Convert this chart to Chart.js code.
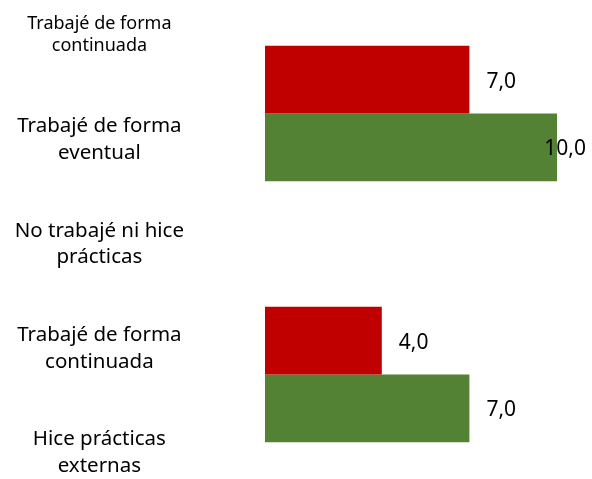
<!DOCTYPE html>
<html>
<head>
<meta charset="utf-8">
<script src="https://cdn.jsdelivr.net/npm/chart.js@4/dist/chart.umd.min.js"></script>
<style>
html,body{margin:0;padding:0;background:#fff;overflow:hidden;}
#wrap{width:592px;height:479px;overflow:hidden;position:relative;}
canvas{display:block;position:absolute;left:0;top:-17px;}
</style>
</head>
<body>
<div id="wrap"><canvas id="c" width="592" height="522"></canvas></div>
<script>
// Data
const groups = ['No trabajé ni hice prácticas', 'Hice prácticas externas'];
const seriesNames = ['Trabajé de forma continuada', 'Trabajé de forma eventual'];
const continuada = [7.0, 4.0];
const eventual = [10.0, 7.0];
const tickLabels = [
  ['Trabajé de forma', 'continuada'],
  ['Trabajé de forma', 'eventual'],
  ['No trabajé ni hice', 'prácticas'],
  ['Trabajé de forma', 'continuada'],
  ['Hice prácticas', 'externas']
];
const colors = ['#C00000', '#548235'];

const fmt = v => v.toFixed(1).replace('.', ',');

const valueLabels = {
  id: 'valueLabels',
  afterDatasetsDraw(chart) {
    const ctx = chart.ctx;
    ctx.save();
    ctx.font = '21px "Noto Sans"';
    ctx.fillStyle = '#000';
    ctx.textBaseline = 'middle';
    ctx.textAlign = 'left';
    chart.data.datasets.forEach((ds, di) => {
      chart.getDatasetMeta(di).data.forEach((bar, i) => {
        const txt = fmt(ds.data[i]);
        const w = ctx.measureText(txt).width;
        const x = Math.min(bar.x + 17, chart.width - 6 - w);
        ctx.fillText(txt, x, bar.y + 2);
      });
    });
    ctx.restore();
  }
};

new Chart(document.getElementById('c'), {
  type: 'bar',
  data: {
    labels: groups,
    datasets: [
      { label: seriesNames[0], data: continuada, backgroundColor: colors[0], yAxisID: 'y' },
      { label: seriesNames[1], data: eventual, backgroundColor: colors[1], yAxisID: 'y' }
    ]
  },
  options: {
    indexAxis: 'y',
    responsive: false,
    animation: false,
    layout: { padding: { top: 0, bottom: 0, left: 0, right: 35 } },
    datasets: { bar: { categoryPercentage: 0.52, barPercentage: 1.0 } },
    plugins: { legend: { display: false }, tooltip: { enabled: false } },
    scales: {
      x: { display: false, min: 0, max: 10 },
      y: { display: false, offset: true },
      yl: {
        type: 'category',
        labels: tickLabels,
        position: 'left',
        offset: true,
        border: { display: false },
        grid: { display: false, drawTicks: false },
        afterFit(scale) { scale.width = 265; scale.paddingTop = 0; scale.paddingBottom = 0; },
        ticks: {
          crossAlign: 'center',
          padding: 81,
          color: '#000',
          autoSkip: false,
          font: (c) => ({ family: 'Noto Sans', size: c.index === 0 ? 18 : 20.5, lineHeight: c.index === 0 ? 1.22 : 1.3 })
        }
      }
    }
  },
  plugins: [valueLabels]
});
</script>
</body>
</html>
